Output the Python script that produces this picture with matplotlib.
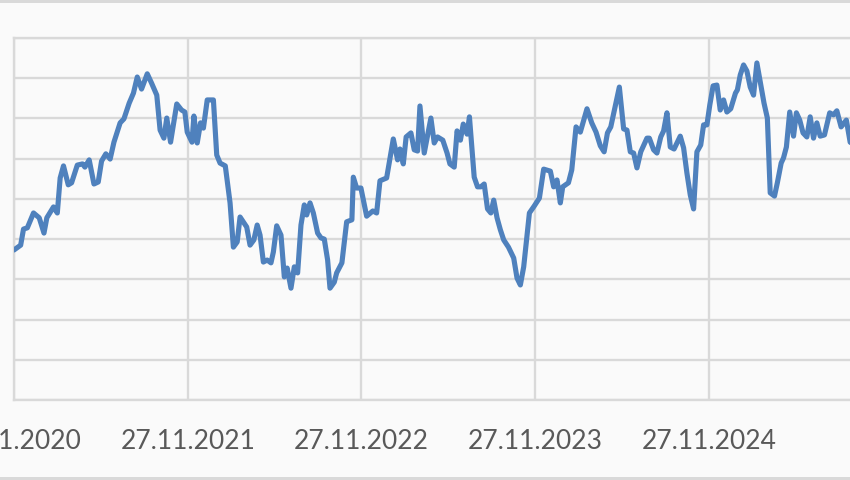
import matplotlib
matplotlib.use("Agg")
import matplotlib.pyplot as plt
from matplotlib.patches import Rectangle
import pandas as pd

# ---- data ----
start_date = "2020-11-27"
end_date = "2025-11-27"
day_offsets = [0, 14, 20, 28, 41, 53, 63, 69, 83, 91, 97, 104, 114, 121, 133, 144, 149, 158, 168, 177,
               184, 193, 202, 210, 223, 231, 242, 251, 259, 268, 280, 289, 300, 307, 315, 321, 329, 342, 352, 359,
               364, 374, 378, 385, 392, 398, 406, 419, 426, 433, 444, 454, 461, 469, 475, 489, 496, 504, 511, 517,
               524, 532, 540, 545, 552, 561, 568, 574, 582, 589, 596, 603, 610, 615, 622, 629, 638, 645, 652, 659,
               664, 673, 678, 689, 699, 710, 713, 720, 729, 741, 754, 762, 769, 783, 797, 806, 811, 818, 824, 834,
               841, 848, 853, 862, 876, 883, 890, 901, 910, 916, 925, 931, 938, 944, 952, 957, 967, 974, 981, 988,
               995, 1002, 1008, 1015, 1022, 1029, 1039, 1050, 1057, 1064, 1071, 1083, 1093, 1104, 1113, 1127, 1134, 1141, 1148, 1153,
               1165, 1172, 1181, 1190, 1204, 1214, 1223, 1232, 1240, 1247, 1254, 1272, 1281, 1288, 1295, 1302, 1309, 1317, 1330, 1335,
               1344, 1351, 1359, 1365, 1372, 1379, 1387, 1400, 1407, 1414, 1421, 1428, 1435, 1443, 1449, 1456, 1462, 1469, 1477, 1484,
               1491, 1498, 1506, 1516, 1520, 1526, 1533, 1540, 1547, 1554, 1561, 1570, 1576, 1583, 1589, 1598, 1604, 1612, 1617, 1623,
               1630, 1638, 1644, 1651, 1658, 1666, 1673, 1680, 1687, 1694, 1703, 1714, 1722, 1729, 1738, 1749, 1757, 1768]
values = [37.3, 38.5, 42.5, 42.8, 46.5, 45.3, 41.5, 45.3, 48.0, 46.5, 55.2, 58.2, 53.5, 54.0, 58.4, 58.7, 57.9, 59.7, 53.7, 54.2,
          59.4, 61.2, 59.9, 64.1, 68.9, 69.9, 73.8, 76.3, 80.3, 77.3, 81.1, 78.8, 75.8, 67.1, 65.1, 70.1, 64.1, 73.6, 72.1, 71.6,
          66.6, 64.1, 70.6, 63.9, 68.9, 67.6, 74.6, 74.6, 60.9, 58.9, 58.2, 49.0, 38.0, 39.3, 45.5, 43.0, 38.5, 39.8, 43.5, 41.0,
          34.3, 34.8, 34.1, 36.8, 43.3, 41.0, 30.6, 32.8, 27.8, 33.1, 31.6, 43.5, 48.5, 46.0, 49.0, 46.5, 41.5, 40.3, 40.0, 34.8,
          27.8, 29.3, 31.6, 34.1, 44.3, 44.8, 55.4, 52.7, 52.7, 45.7, 47.0, 46.5, 54.5, 55.2, 64.9, 59.7, 62.4, 58.7, 65.4, 66.4,
          62.2, 61.9, 73.1, 61.4, 70.1, 63.9, 65.4, 64.6, 61.4, 58.7, 57.9, 66.9, 64.6, 68.6, 66.1, 70.4, 55.4, 53.0, 53.0, 53.7,
          47.5, 46.5, 49.7, 45.3, 42.3, 39.8, 38.0, 35.3, 30.3, 28.6, 33.1, 46.5, 48.2, 50.2, 57.4, 56.9, 53.0, 54.7, 49.0, 53.0,
          54.0, 57.2, 67.9, 66.6, 72.4, 68.9, 66.6, 63.2, 61.7, 66.4, 67.9, 77.8, 67.4, 67.1, 61.7, 61.4, 57.7, 61.7, 65.1, 65.1,
          62.2, 61.4, 65.4, 66.9, 71.4, 62.9, 62.4, 65.6, 62.7, 56.4, 51.0, 47.5, 61.7, 63.4, 68.4, 68.4, 73.3, 78.1, 78.3, 72.1,
          74.6, 71.6, 72.4, 76.3, 77.1, 80.8, 83.3, 81.8, 77.8, 75.8, 83.8, 77.8, 73.8, 70.1, 51.5, 50.7, 54.0, 58.9, 60.2, 62.9,
          71.6, 65.6, 71.4, 69.6, 66.4, 65.4, 70.4, 65.1, 68.9, 65.6, 65.9, 71.4, 70.9, 71.9, 67.9, 69.6, 64.1, 63.2]
tick_dates = ["2020-11-27", "2021-11-27", "2022-11-27", "2023-11-27", "2024-11-27"]
tick_labels = ["27.11.2020", "27.11.2021", "27.11.2022", "27.11.2023", "27.11.2024"]
y_ticks = [0, 10, 20, 30, 40, 50, 60, 70, 80, 90]

# ---- styling ----
BG = "#fafafa"
GRID = "#d9d9d9"
LINE = "#4f81bd"
TEXT = "#595959"

dates = pd.Timestamp(start_date) + pd.to_timedelta(day_offsets, unit="D")

fig = plt.figure(figsize=(8.5, 4.8), dpi=100, facecolor=BG)
W, H = 850.0, 480.0
# axes spans from x=14px to beyond the right edge (chart is cropped)
ax = fig.add_axes([14 / W, 80 / H, (883 - 14) / W, (400 - 38) / H], facecolor=BG)

ax.plot(dates, values, color=LINE, lw=3.7, solid_joinstyle="round", solid_capstyle="round", zorder=3)

ax.set_xlim(pd.Timestamp(start_date), pd.Timestamp(end_date))
ax.set_ylim(y_ticks[0], y_ticks[-1])
ax.set_yticks(y_ticks)
ax.set_yticklabels([])
ax.set_xticks([pd.Timestamp(d) for d in tick_dates])
ax.set_xticklabels(tick_labels)
ax.tick_params(axis="both", length=0)
ax.tick_params(axis="x", pad=21, labelsize=19, labelcolor=TEXT)
for lab in ax.get_xticklabels():
    lab.set_family(["Lato", "DejaVu Sans"])

ax.grid(True, color=GRID, lw=1.7, zorder=0)
ax.set_axisbelow(True)
for side in ["top", "left", "bottom"]:
    ax.spines[side].set_color(GRID)
    ax.spines[side].set_linewidth(1.7)
ax.spines["right"].set_visible(False)

# chart-area border strips at the top and bottom of the picture
fig.add_artist(Rectangle((0, 1 - 3 / H), 1, 3 / H, transform=fig.transFigure,
                         facecolor=GRID, edgecolor="none"))
fig.add_artist(Rectangle((0, 0), 1, 3 / H, transform=fig.transFigure,
                         facecolor=GRID, edgecolor="none"))

fig.savefig("out.png", dpi=100, facecolor=BG)
